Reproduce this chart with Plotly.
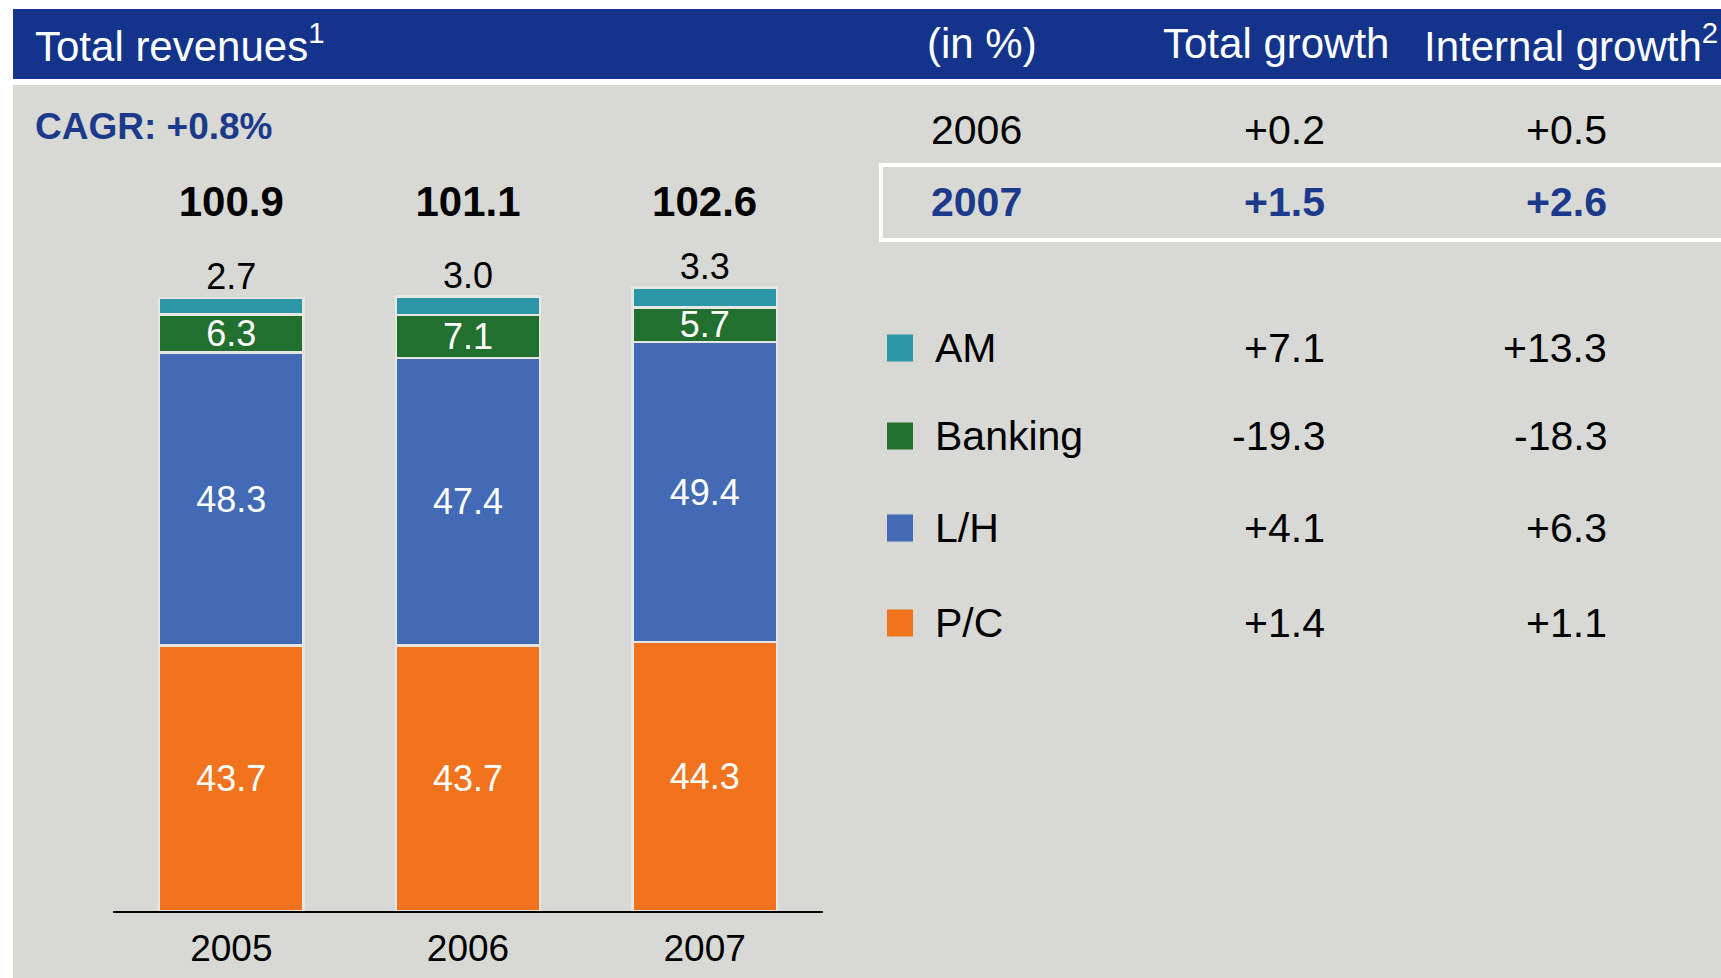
import plotly.graph_objects as go

W, H = 1721, 978
FONT = "Liberation Sans, Arial, sans-serif"

# ---- data ----
years = ["2005", "2006", "2007"]
pc = [43.7, 43.7, 44.3]
lh = [48.3, 47.4, 49.4]
banking = [6.3, 7.1, 5.7]
am = [2.7, 3.0, 3.3]
totals = ["100.9", "101.1", "102.6"]
cagr_text = "CAGR: +0.8%"

growth_years = ["2006", "2007"]
growth_total = ["+0.2", "+1.5"]
growth_internal = ["+0.5", "+2.6"]

segments = ["AM", "Banking", "L/H", "P/C"]
seg_total_growth = ["+7.1", "-19.3", "+4.1", "+1.4"]
seg_internal_growth = ["+13.3", "-18.3", "+6.3", "+1.1"]

# ---- styles ----
colors = {"AM": "#2C97A6", "Banking": "#21702F", "L/H": "#436AB4", "P/C": "#F1731D"}
HEADER_BLUE = "#13348A"
TEXT_BLUE = "#1B3A8C"
PANEL = "#D8D9D4"
TOTAL_LEVEL = 116.2  # data level of the total labels row


def px(x):
    return x / W


def py(y):
    return 1 - y / H


fig = go.Figure()
stack = [("P/C", pc, True), ("L/H", lh, True), ("Banking", banking, True), ("AM", am, False)]
for name, vals, show in stack:
    fig.add_trace(go.Bar(
        x=years, y=vals, name=name, width=0.61,
        marker=dict(color=colors[name], line=dict(color="#E6E6E2", width=2.5)),
        text=[f"{v:.1f}" for v in vals] if show else None,
        textposition="inside" if show else "none",
        insidetextanchor="middle", textangle=0,
        textfont=dict(color="white", size=36, family=FONT),
        hoverinfo="skip", showlegend=False,
    ))

# AM labels above stacks
stack_tops = [p + l + b + a for p, l, b, a in zip(pc, lh, banking, am)]
fig.add_trace(go.Scatter(
    x=years, y=stack_tops, mode="text", text=[f"{v:.1f}" for v in am],
    textposition="top center", textfont=dict(size=36, color="black", family=FONT),
    hoverinfo="skip", showlegend=False, cliponaxis=False,
))
# totals row
fig.add_trace(go.Scatter(
    x=years, y=[TOTAL_LEVEL] * len(years), mode="text", text=[f"<b>{t}</b>" for t in totals],
    textposition="middle center", textfont=dict(size=42, color="black", family=FONT),
    hoverinfo="skip", showlegend=False, cliponaxis=False,
))

shapes = [
    dict(type="rect", xref="paper", yref="paper", x0=px(13), x1=1, y0=0, y1=py(85),
         fillcolor=PANEL, line=dict(width=0), layer="below"),
    dict(type="rect", xref="paper", yref="paper", x0=px(13), x1=1, y0=py(79), y1=py(9),
         fillcolor=HEADER_BLUE, line=dict(width=0), layer="below"),
    dict(type="rect", xref="paper", yref="paper", x0=px(881), x1=px(1740), y0=py(240), y1=py(165),
         fillcolor="rgba(0,0,0,0)", line=dict(color="white", width=4)),
]

ann = []


def text(x, y, s, size=41, color="black", anchor="left", bold=False):
    ann.append(dict(xref="paper", yref="paper", x=px(x), y=py(y), text=f"<b>{s}</b>" if bold else s,
                    showarrow=False, xanchor=anchor, yanchor="middle",
                    font=dict(size=size, color=color, family=FONT)))


# header
text(33, 43, "Total revenues<sup>1</sup>", size=42, color="white")
text(925, 43, "(in %)", size=42, color="white")
text(1161, 43, "Total growth", size=42, color="white")
text(1422, 43, "Internal growth<sup>2</sup>", size=42, color="white")

# CAGR
text(33, 126, cagr_text, size=37, color=TEXT_BLUE, bold=True)

# growth rows
row_y = [130, 202]
for i, (g, t, it) in enumerate(zip(growth_years, growth_total, growth_internal)):
    highlight = i == 1
    c = TEXT_BLUE if highlight else "black"
    text(929, row_y[i], g, color=c, bold=highlight)
    text(1327, row_y[i], t, color=c, anchor="right", bold=highlight)
    text(1609, row_y[i], it, color=c, anchor="right", bold=highlight)

# segment rows
seg_y = [348, 436, 528, 623]
for name, yy, t, it in zip(segments, seg_y, seg_total_growth, seg_internal_growth):
    shapes.append(dict(type="rect", xref="paper", yref="paper", x0=px(887), x1=px(913),
                       y0=py(yy + 13.5), y1=py(yy - 13.5), fillcolor=colors[name], line=dict(width=0)))
    text(933, yy, name)
    text(1327, yy, t, anchor="right")
    text(1609, yy, it, anchor="right")

fig.update_layout(
    width=W, height=H, barmode="stack",
    margin=dict(l=0, r=0, t=0, b=0),
    paper_bgcolor="white", plot_bgcolor="rgba(0,0,0,0)",
    shapes=shapes, annotations=ann,
    xaxis=dict(domain=[px(113), px(823)], type="category", range=[-0.5, 2.5],
               showline=True, linecolor="black", linewidth=1.5, showgrid=False, zeroline=False,
               ticks="", tickfont=dict(size=37, color="black", family=FONT), ticklabelstandoff=4),
    yaxis=dict(domain=[py(911), py(91.5)], range=[0, 135], visible=False),
    uniformtext=dict(minsize=36, mode="show"),
    font=dict(family=FONT),
)

fig.write_html("out.html", config={"displayModeBar": False},
               post_script="document.body.style.margin='0';document.body.style.overflow='hidden';")
